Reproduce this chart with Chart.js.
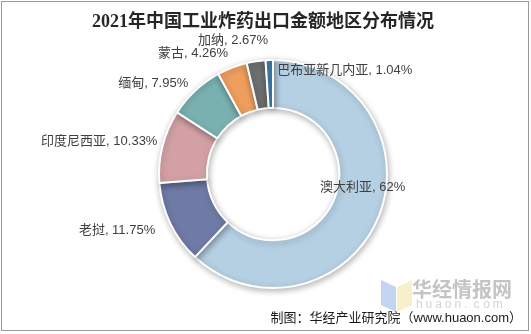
<!DOCTYPE html>
<html>
<head>
<meta charset="utf-8">
<script src="https://cdn.jsdelivr.net/npm/chart.js@4"></script>
<style>
html,body{margin:0;padding:0;background:#fff;}
#wrap{position:relative;width:531px;height:334px;}
</style>
</head>
<body>
<div id="wrap"><canvas id="c" width="531" height="334"></canvas></div>
<script>
const categories = ['澳大利亚', '老挝', '印度尼西亚', '缅甸', '蒙古', '加纳', '巴布亚新几内亚'];
const shares = [62, 11.75, 10.33, 7.95, 4.26, 2.67, 1.04];
const valueLabels = ['62%', '11.75%', '10.33%', '7.95%', '4.26%', '2.67%', '1.04%'];
const titleText = '2021年中国工业炸药出口金额地区分布情况';
const sourceText = '制图：华经产业研究院（www.huaon.com）';

const colors = ['#b5d0e3', '#6f7ba6', '#d3a1a5', '#79b1b1', '#ee9f5e', '#6d6f71', '#3e7eab'];

// label placement relative to each arc (anchor: 'outer' or 'mid', offsets in px)
const labelPlace = [
  {anchor:'mid', dx:6, dy:-20, align:'center'},
  {anchor:'outer', dx:-15, dy:7, align:'right'},
  {anchor:'outer', dx:-5, dy:-5, align:'right'},
  {anchor:'outer', dx:-7, dy:-7, align:'right'},
  {anchor:'outer', dx:-4, dy:-14, align:'right'},
  {anchor:'outer', dx:12, dy:-21, align:'right'},
  {anchor:'outer', dx:8, dy:10, align:'left'}
];

const decor = {
  id:'decor',
  beforeDraw(chart){
    const ctx = chart.ctx;
    ctx.save();
    ctx.fillStyle = '#fff';
    ctx.fillRect(0,0,chart.width,chart.height);
    // watermark icon
    ctx.globalAlpha = 0.55;
    ctx.fillStyle = '#8fb4e8';
    ctx.beginPath();
    ctx.moveTo(381,280); ctx.lineTo(396,287); ctx.lineTo(396,312); ctx.lineTo(381,305); ctx.closePath();
    ctx.fill();
    ctx.fillStyle = '#f3e39a';
    ctx.beginPath();
    ctx.moveTo(397,287); ctx.lineTo(412,280); ctx.lineTo(412,305); ctx.lineTo(397,312); ctx.closePath();
    ctx.fill();
    ctx.globalAlpha = 1;
    ctx.fillStyle = '#c4c4c4';
    ctx.font = 'bold 20px "Noto Sans CJK SC", sans-serif';
    ctx.textAlign = 'left';
    ctx.textBaseline = 'middle';
    ctx.fillText('华经情报网', 412, 289);
    ctx.fillStyle = '#d4d4d4';
    ctx.font = '12px "Liberation Sans", sans-serif';
    const wm = 'huaon.com';
    let x = 416;
    for (const ch of wm){ ctx.fillText(ch, x, 305); x += 9.6; }
    ctx.restore();
  },
  beforeDatasetsDraw(chart){
    const ctx = chart.ctx;
    ctx.save();
    ctx.shadowColor = 'rgba(0,0,0,0.28)';
    ctx.shadowBlur = 6;
    ctx.shadowOffsetX = 1;
    ctx.shadowOffsetY = 2;
  },
  afterDatasetsDraw(chart){
    const ctx = chart.ctx;
    ctx.restore();
    const meta = chart.getDatasetMeta(0);
    ctx.save();
    ctx.font = '13px "Liberation Sans", "Noto Sans CJK SC", sans-serif';
    ctx.fillStyle = '#404040';
    ctx.textBaseline = 'middle';
    meta.data.forEach((arc, i) => {
      const p = arc.getProps(['x','y','startAngle','endAngle','innerRadius','outerRadius'], true);
      const a = (p.startAngle + p.endAngle)/2;
      const pl = labelPlace[i];
      const r = pl.anchor === 'mid' ? (p.innerRadius + p.outerRadius)/2 : p.outerRadius;
      const x = p.x + Math.cos(a)*r + pl.dx;
      const y = p.y + Math.sin(a)*r + pl.dy;
      ctx.textAlign = pl.align;
      ctx.fillText(categories[i] + ', ' + valueLabels[i], x, y);
    });
    // title
    ctx.fillStyle = '#262626';
    ctx.font = 'bold 18px "Liberation Serif", "Noto Sans CJK SC", serif';
    ctx.textAlign = 'center';
    ctx.fillText(titleText, 263, 22);
    // source
    ctx.fillStyle = '#1a1a1a';
    ctx.font = '13px "Liberation Sans", "Noto Sans CJK SC", sans-serif';
    ctx.textAlign = 'right';
    ctx.fillText(sourceText, 522, 318);
    // border
    ctx.strokeStyle = '#9a9a9a';
    ctx.lineWidth = 1;
    ctx.strokeRect(1.5, 1.5, 527, 329);
    ctx.restore();
  }
};

new Chart(document.getElementById('c'), {
  type: 'doughnut',
  data: {
    labels: categories,
    datasets: [{
      data: shares,
      backgroundColor: colors,
      borderColor: '#ffffff',
      borderWidth: 2
    }]
  },
  options: {
    responsive: false,
    animation: false,
    cutout: '58%',
    rotation: 0,
    layout: { padding: { top: 59, bottom: 45, left: 20, right: 5 } },
    plugins: {
      legend: { display: false },
      tooltip: { enabled: false },
      title: { display: false }
    }
  },
  plugins: [decor]
});
</script>
</body>
</html>
